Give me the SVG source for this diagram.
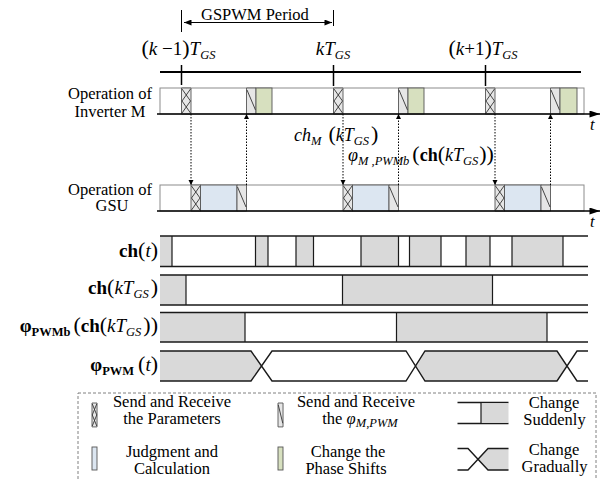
<svg xmlns="http://www.w3.org/2000/svg" xmlns:xlink="http://www.w3.org/1999/xlink" width="606" height="479" viewBox="0 0 606 479">
  <style>
    text { font-family: "Liberation Serif", "Times New Roman", serif; fill: #000; }
    .t { font-size: 16.5px; }
    .m { font-size: 19px; }
    .mm { font-size: 18px; }
    .i { font-style: italic; }
    .b { font-weight: bold; }
    .p { font-size: 22px; font-style: normal; }
    .s { font-size: 12.5px; font-style: italic; }
    .sb { font-size: 12.5px; font-weight: bold; }
    .row { fill: #fff; stroke: #8c8c8c; stroke-width: 1; }
    .axis { stroke: #000; stroke-width: 1.3; fill: none; }
    .sig { stroke: #1a1a1a; stroke-width: 1.4; fill: none; }
    .gray { fill: #d9d9d9; stroke: none; }
    .edge { stroke: #1a1a1a; stroke-width: 1.2; }
    .calc { fill: #dce6f1; stroke: #555; stroke-width: 0.9; }
    .shift { fill: #d7e0bf; stroke: #555; stroke-width: 0.9; }
    .dot { stroke: #000; stroke-width: 1; stroke-dasharray: 1.5 1.5; fill: none; }
  </style>
  <defs>
    <marker id="tip" viewBox="0 0 10 10" refX="10" refY="5" markerWidth="5" markerHeight="6" markerUnits="userSpaceOnUse" orient="auto">
      <path d="M0,0 L10,5 L0,10 z" fill="#000"/>
    </marker>
    <marker id="axtip" viewBox="0 0 12 8" refX="12" refY="4" markerWidth="13" markerHeight="7" markerUnits="userSpaceOnUse" orient="auto">
      <path d="M0,0 L12,4 L0,8 z" fill="#000"/>
    </marker>
    <marker id="ptip" viewBox="0 0 10 8" refX="10" refY="4" markerWidth="9" markerHeight="6" markerUnits="userSpaceOnUse" orient="auto">
      <path d="M0,0 L10,4 L0,8 z" fill="#000"/>
    </marker>
    <!-- send/receive parameters: cross-hatched cell -->
    <g id="xbox">
      <rect width="9.5" height="26" fill="#e6e6e6" stroke="#555" stroke-width="0.9" vector-effect="non-scaling-stroke"/>
      <path d="M0.5,1 L9,13 L0.5,25 M9,1 L0.5,13 L9,25" fill="none" stroke="#333" stroke-width="0.9" vector-effect="non-scaling-stroke"/>
    </g>
    <!-- send/receive phase: single-diagonal cell -->
    <g id="dbox">
      <rect width="9.5" height="26" fill="#e6e6e6" stroke="#555" stroke-width="0.9" vector-effect="non-scaling-stroke"/>
      <path d="M0.5,2 L9,22" fill="none" stroke="#333" stroke-width="0.9" vector-effect="non-scaling-stroke"/>
    </g>
  </defs>

  <!-- period bracket -->
  <g id="period">
    <line x1="181.5" y1="10" x2="181.5" y2="32" stroke="#000" stroke-width="1"/>
    <line x1="333.5" y1="10" x2="333.5" y2="26" stroke="#000" stroke-width="1"/>
    <line x1="258" y1="22.5" x2="184" y2="22.5" stroke="#000" stroke-width="1" marker-end="url(#ptip)"/>
    <line x1="258" y1="22.5" x2="332" y2="22.5" stroke="#000" stroke-width="1" marker-end="url(#ptip)"/>
    <text class="t" x="201" y="19.5">GSPWM Period</text>
  </g>

  <!-- sampling timeline -->
  <g id="timeline">
    <line x1="160" y1="72" x2="581" y2="72" stroke="#000" stroke-width="2"/>
    <line x1="181.5" y1="65" x2="181.5" y2="85" stroke="#000" stroke-width="1.5"/>
    <line x1="333.5" y1="65" x2="333.5" y2="86" stroke="#000" stroke-width="1.5"/>
    <line x1="485.5" y1="65" x2="485.5" y2="86" stroke="#000" stroke-width="1.5"/>
    <text class="m" x="178.5" y="55" text-anchor="middle"><tspan class="p">(</tspan><tspan class="i">k</tspan> −1<tspan class="p">)</tspan><tspan class="i">T</tspan><tspan class="s" dy="4">GS</tspan></text>
    <text class="m" x="333" y="55" text-anchor="middle"><tspan class="i">kT</tspan><tspan class="s" dy="4">GS</tspan></text>
    <text class="m" x="483" y="55" text-anchor="middle"><tspan class="p">(</tspan><tspan class="i">k</tspan>+1<tspan class="p">)</tspan><tspan class="i">T</tspan><tspan class="s" dy="4">GS</tspan></text>
  </g>

  <!-- inverter M operation row -->
  <g id="row-inverter">
    <text class="t" x="110" y="98.5" text-anchor="middle">Operation of</text>
    <text class="t" x="110" y="117" text-anchor="middle">Inverter M</text>
    <rect class="row" x="160" y="88" width="424" height="26"/>
    <use xlink:href="#xbox" x="181.5" y="88"/>
    <use xlink:href="#dbox" x="246.5" y="88"/>
    <rect class="shift" x="256" y="88" width="16" height="26"/>
    <use xlink:href="#xbox" x="333.5" y="88"/>
    <use xlink:href="#dbox" x="398.5" y="88"/>
    <rect class="shift" x="408" y="88" width="16" height="26"/>
    <use xlink:href="#xbox" x="485.5" y="88"/>
    <use xlink:href="#dbox" x="550.5" y="88"/>
    <rect class="shift" x="560" y="88" width="17" height="26"/>
    <line class="axis" x1="157" y1="114" x2="600" y2="114" marker-end="url(#axtip)"/>
    <text class="t i" x="590" y="130">t</text>
  </g>

  <!-- GSU operation row -->
  <g id="row-gsu">
    <text class="t" x="110" y="194.5" text-anchor="middle">Operation of</text>
    <text class="t" x="112" y="211" text-anchor="middle">GSU</text>
    <rect class="row" x="160" y="185" width="424" height="26"/>
    <use xlink:href="#xbox" x="191" y="185"/>
    <rect class="calc" x="200.5" y="185" width="36.5" height="26"/>
    <use xlink:href="#dbox" x="237" y="185"/>
    <use xlink:href="#xbox" x="343" y="185"/>
    <rect class="calc" x="352.5" y="185" width="36.5" height="26"/>
    <use xlink:href="#dbox" x="389" y="185"/>
    <use xlink:href="#xbox" x="495" y="185"/>
    <rect class="calc" x="504.5" y="185" width="36.5" height="26"/>
    <use xlink:href="#dbox" x="541" y="185"/>
    <line class="axis" x1="157" y1="211" x2="600" y2="211" marker-end="url(#axtip)"/>
    <text class="t i" x="590" y="227">t</text>
  </g>

  <!-- message exchanges between inverter and GSU -->
  <g id="connectors">
    <line class="dot" x1="191" y1="114" x2="191" y2="185" marker-end="url(#tip)"/>
    <line class="dot" x1="246.5" y1="185" x2="246.5" y2="114" marker-end="url(#tip)"/>
    <line class="dot" x1="343" y1="114" x2="343" y2="185" marker-end="url(#tip)"/>
    <line class="dot" x1="398.5" y1="185" x2="398.5" y2="114" marker-end="url(#tip)"/>
    <line class="dot" x1="495" y1="114" x2="495" y2="185" marker-end="url(#tip)"/>
    <line class="dot" x1="550.5" y1="185" x2="550.5" y2="114" marker-end="url(#tip)"/>
  </g>

  <g id="label-ch-m">
    <text class="mm" x="294" y="141"><tspan class="i">ch</tspan><tspan class="s" dy="4">M</tspan><tspan class="p" dx="7" dy="-4">(</tspan><tspan class="i">kT</tspan><tspan class="s" dy="4">GS</tspan><tspan class="p" dx="2" dy="-4">)</tspan></text>
  </g>
  <g id="label-phi-m">
    <text class="mm" x="348" y="161"><tspan class="i">φ</tspan><tspan class="s" dy="4">M ,PWMb</tspan><tspan class="p" dx="3" dy="-4">(</tspan><tspan class="b">ch</tspan><tspan class="p">(</tspan><tspan class="i">kT</tspan><tspan class="s" dy="4">GS</tspan><tspan class="p" dx="1" dy="-4">))</tspan></text>
  </g>

  <!-- ch(t) -->
  <g id="sig-ch">
    <text class="m" x="158" y="257" text-anchor="end"><tspan class="b">ch</tspan><tspan class="p">(</tspan><tspan class="i">t</tspan><tspan class="p">)</tspan></text>
    <rect class="gray" x="160" y="236" width="12" height="30.5"/>
    <rect class="gray" x="255.5" y="236" width="12.5" height="30.5"/>
    <rect class="gray" x="296" y="236" width="17.5" height="30.5"/>
    <rect class="gray" x="361" y="236" width="37.5" height="30.5"/>
    <rect class="gray" x="409.5" y="236" width="31.5" height="30.5"/>
    <rect class="gray" x="466" y="236" width="24" height="30.5"/>
    <rect class="gray" x="512" y="236" width="51" height="30.5"/>
    <path class="edge" d="M172,236V266.5 M255.5,236V266.5 M268,236V266.5 M296,236V266.5 M313.5,236V266.5 M361,236V266.5 M398.5,236V266.5 M409.5,236V266.5 M441,236V266.5 M466,236V266.5 M490,236V266.5 M512,236V266.5 M563,236V266.5"/>
    <path class="sig" d="M160,236H588 M160,266.5H588"/>
  </g>

  <!-- ch(kT_GS) -->
  <g id="sig-ch-k">
    <text class="m" x="158" y="294" text-anchor="end"><tspan class="b">ch</tspan><tspan class="p">(</tspan><tspan class="i">kT</tspan><tspan class="s" dy="4">GS</tspan><tspan class="p" dx="2" dy="-4">)</tspan></text>
    <rect class="gray" x="160" y="275" width="26" height="30"/>
    <rect class="gray" x="342.5" y="275" width="150" height="30"/>
    <path class="edge" d="M186,275V305 M342.5,275V305 M492.5,275V305"/>
    <path class="sig" d="M160,275H588 M160,305H588"/>
  </g>

  <!-- phi_PWMb(ch(kT_GS)) -->
  <g id="sig-phib">
    <text class="m" x="158" y="332" text-anchor="end"><tspan class="b">φ</tspan><tspan class="sb" dy="4">PWMb</tspan><tspan class="p" dx="3" dy="-4">(</tspan><tspan class="b">ch</tspan><tspan class="p">(</tspan><tspan class="i">kT</tspan><tspan class="s" dy="4">GS</tspan><tspan class="p" dx="2" dy="-4">))</tspan></text>
    <rect class="gray" x="160" y="312.5" width="85" height="29.5"/>
    <rect class="gray" x="396.5" y="312.5" width="150.5" height="29.5"/>
    <path class="edge" d="M245,312.5V342 M396.5,312.5V342 M547,312.5V342"/>
    <path class="sig" d="M160,312.5H588 M160,342H588"/>
  </g>

  <!-- phi_PWM(t) -->
  <g id="sig-phi">
    <text class="m" x="158" y="371" text-anchor="end"><tspan class="b">φ</tspan><tspan class="sb" dy="4">PWM</tspan><tspan class="p" dx="4" dy="-4">(</tspan><tspan class="i">t</tspan><tspan class="p">)</tspan></text>
    <polygon class="gray" points="160,351 251,351 261.5,366 251,381 160,381"/>
    <polygon class="gray" points="415.5,366 425,351 557,351 567,366 557,381 425,381"/>
    <path class="sig" d="M160,351H251L272,381H406L425,351H557L577,381H588 M160,381H251L272,351H406L425,381H557L577,351H588"/>
  </g>

  <!-- legend -->
  <g id="legend">
    <rect x="78" y="393" width="518" height="100" fill="none" stroke="#808080" stroke-width="1" stroke-dasharray="3 2"/>
    <use xlink:href="#xbox" transform="translate(92,403) scale(0.53,0.92)"/>
    <text class="t" x="172" y="407" text-anchor="middle">Send and Receive</text>
    <text class="t" x="172" y="423.5" text-anchor="middle">the Parameters</text>
    <use xlink:href="#dbox" transform="translate(278,403) scale(0.53,0.92)"/>
    <text class="t" x="356" y="407" text-anchor="middle">Send and Receive</text>
    <text class="t" x="360" y="423.5" text-anchor="middle">the <tspan class="i">φ</tspan><tspan class="s" dy="3">M,PWM</tspan></text>
    <path class="sig" d="M457.5,402.5H508.5 M457.5,423.5H508.5"/>
    <rect class="gray" x="481" y="403.2" width="27.5" height="19.6"/>
    <line class="edge" x1="481" y1="402.5" x2="481" y2="423.5"/>
    <text class="t" x="554" y="408" text-anchor="middle">Change</text>
    <text class="t" x="554.5" y="425" text-anchor="middle">Suddenly</text>
    <rect class="calc" x="92" y="447" width="5" height="23"/>
    <text class="t" x="172" y="457" text-anchor="middle">Judgment and</text>
    <text class="t" x="172" y="473.5" text-anchor="middle">Calculation</text>
    <rect class="shift" x="278" y="447" width="5" height="23"/>
    <text class="t" x="348" y="457" text-anchor="middle">Change the</text>
    <text class="t" x="346" y="473.5" text-anchor="middle">Phase Shifts</text>
    <polygon class="gray" points="478,459.2 488,448.5 508.5,448.5 508.5,470 488,470"/>
    <path class="sig" d="M457.5,448.5H468L488,470H508.5 M457.5,470H468L488,448.5H508.5"/>
    <text class="t" x="554" y="455" text-anchor="middle">Change</text>
    <text class="t" x="554.5" y="472" text-anchor="middle">Gradually</text>
  </g>
</svg>
